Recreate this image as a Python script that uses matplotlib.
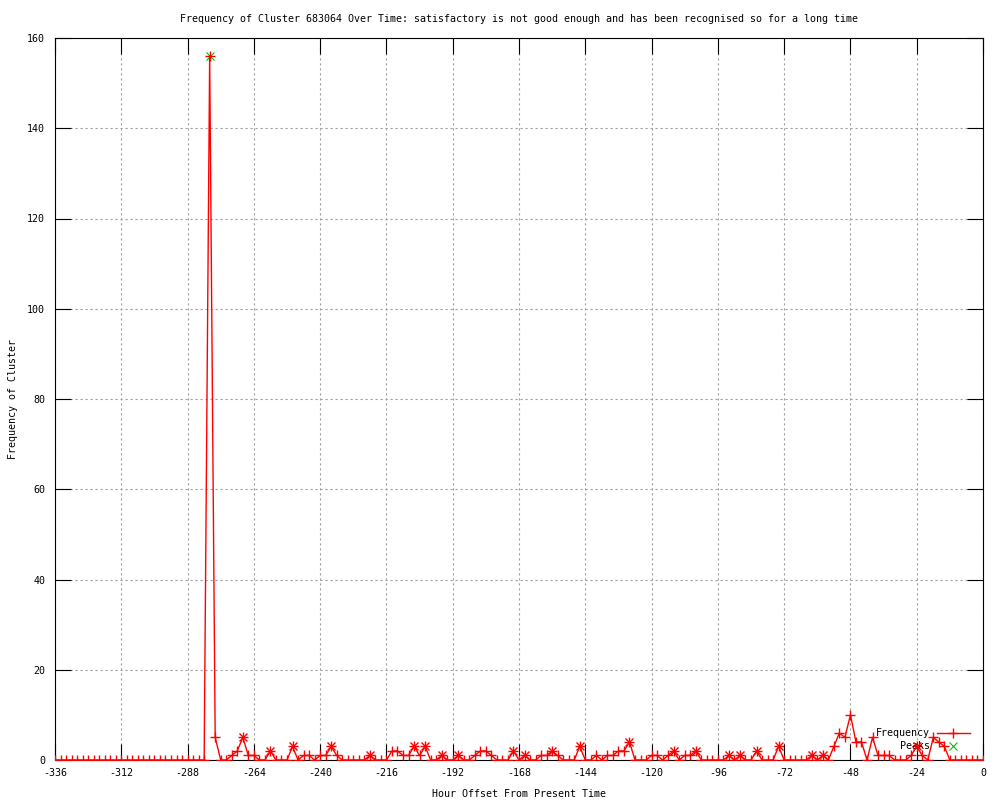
import numpy as np
import matplotlib
matplotlib.use('Agg')
import matplotlib.pyplot as plt

# hour offsets, one sample every 2 hours
hours = list(range(-336, 1, 2))

# cluster frequency per sample, one row per 24 hours (starting at -336)
freq = [
    0, 0, 0, 0, 0, 0, 0, 0, 0, 0, 0, 0,        # -336 .. -314
    0, 0, 0, 0, 0, 0, 0, 0, 0, 0, 0, 0,        # -312 .. -290
    0, 0, 0, 0, 156, 5, 0, 0, 1, 2, 5, 1,      # -288 .. -266
    1, 0, 0, 2, 0, 0, 0, 3, 0, 1, 1, 0,        # -264 .. -242
    1, 1, 3, 1, 0, 0, 0, 0, 0, 1, 0, 0,        # -240 .. -218
    0, 2, 2, 1, 1, 3, 1, 3, 0, 0, 1, 0,        # -216 .. -194
    0, 1, 0, 0, 1, 2, 2, 1, 0, 0, 0, 2,        # -192 .. -170
    0, 1, 0, 0, 1, 1, 2, 1, 0, 0, 0, 3,        # -168 .. -146
    0, 0, 1, 0, 1, 1, 2, 2, 4, 0, 0, 0,        # -144 .. -122
    1, 1, 0, 1, 2, 0, 1, 1, 2, 0, 0, 0,        # -120 .. -98
    0, 0, 1, 0, 1, 0, 0, 2, 0, 0, 0, 3,        # -96 .. -74
    0, 0, 0, 0, 0, 1, 0, 1, 0, 3, 6, 5,        # -72 .. -50
    10, 4, 4, 0, 5, 1, 1, 1, 0, 0, 0, 1,       # -48 .. -26
    3, 1, 0, 5, 4, 3, 0, 0, 0, 0, 0, 0,        # -24 .. -2
    0,                                         # 0
]

# detected peaks (legend "Peaks")
peak_hours = [-280]
# small local maxima drawn as stars on the line
star_hours = [-268, -258, -250, -236, -222, -206, -202, -196, -190, -170,
              -166, -156, -146, -128, -112, -104, -92, -88, -82, -74, -62, -58, -24]

xticks = list(range(-336, 1, 24))
yticks = list(range(0, 161, 20))

title = ('Frequency of Cluster 683064 Over Time: satisfactory is not good enough '
         'and has been recognised so for a long time')

plt.rcParams['font.family'] = ['DejaVu Sans Mono']
plt.rcParams['axes.unicode_minus'] = False

lookup = dict(zip(hours, freq))
fs = 7.2

fig = plt.figure(figsize=(10, 8), dpi=100)
ax = fig.add_axes([0.055, 0.05, 0.928, 0.9025])

ax.plot(hours, freq, color='red', lw=1, marker='+', ms=7, mew=1, zorder=3)
ax.plot(star_hours, [lookup[h] for h in star_hours], ls='none', marker='x',
        color='red', ms=5.5, mew=1, zorder=4)
ax.plot(peak_hours, [lookup[h] for h in peak_hours], ls='none', marker='x',
        color='#00c000', ms=6, mew=0.8, zorder=2)

ax.set_xlim(-336, 0)
ax.set_ylim(0, 160)
ax.set_xticks(xticks)
ax.set_yticks(yticks)
ax.tick_params(direction='in', length=11.5, width=0.8, top=True, right=True,
               labelsize=fs)
ax.tick_params(axis='x', pad=6)
ax.tick_params(axis='y', pad=7)
ax.grid(True, color='#a0a0a0', ls=(0, (2, 2.5)), lw=0.8)
for s in ax.spines.values():
    s.set_linewidth(0.8)

ax.set_title(title, fontsize=fs, pad=11.5)
ax.set_xlabel('Hour Offset From Present Time', fontsize=fs, labelpad=8)
ax.set_ylabel('Frequency of Cluster', fontsize=fs, labelpad=7)

# gnuplot style key, text right-aligned with samples to the right
ax.text(0.943, 0.0374, 'Frequency', transform=ax.transAxes, ha='right',
        va='center', fontsize=fs)
ax.text(0.943, 0.0194, 'Peaks', transform=ax.transAxes, ha='right',
        va='center', fontsize=fs)
ax.plot([0.950, 0.986], [0.0374, 0.0374], transform=ax.transAxes,
        color='red', lw=1, clip_on=False)
ax.plot([0.968], [0.0374], transform=ax.transAxes, color='red', marker='+',
        ms=7, clip_on=False)
ax.plot([0.968], [0.0194], transform=ax.transAxes, color='#00c000', marker='x',
        ms=6, mew=0.8, clip_on=False)

fig.savefig('out.png', dpi=100)
